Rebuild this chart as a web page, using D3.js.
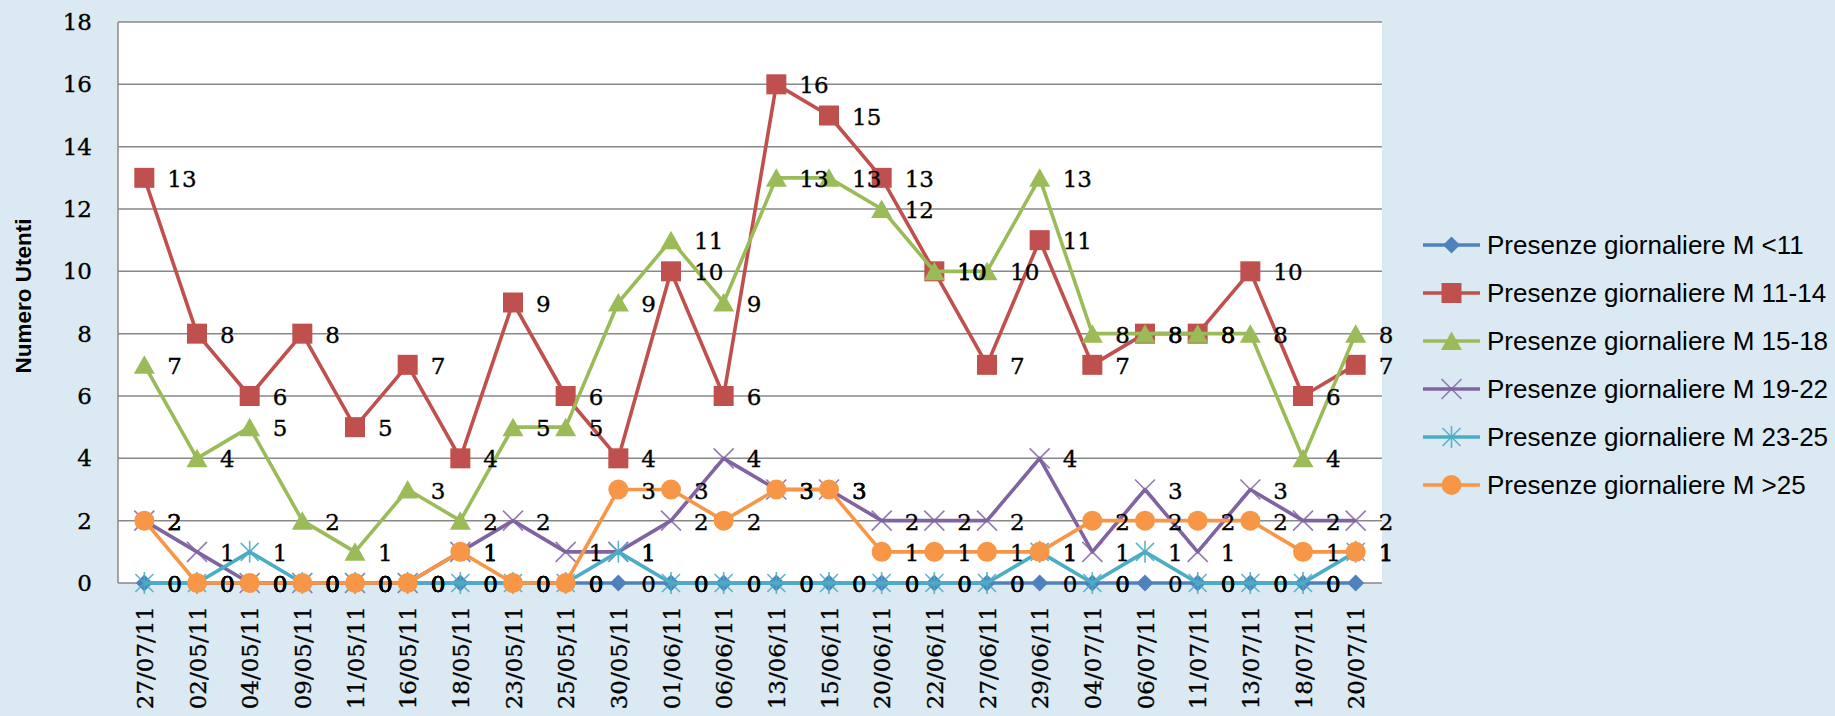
<!DOCTYPE html>
<html><head><meta charset="utf-8">
<script src="https://cdn.jsdelivr.net/npm/d3@7"></script>
<style>html,body{margin:0;padding:0;background:#dbeaf2;} svg{display:block}</style>
</head><body>
<svg id="chart" width="1835" height="716"></svg>
<script>
const categories = ["27/07/11","02/05/11","04/05/11","09/05/11","11/05/11","16/05/11","18/05/11","23/05/11","25/05/11","30/05/11","01/06/11","06/06/11","13/06/11","15/06/11","20/06/11","22/06/11","27/06/11","29/06/11","04/07/11","06/07/11","11/07/11","13/07/11","18/07/11","20/07/11"];
const seriesNames = ["Presenze giornaliere M <11","Presenze giornaliere M 11-14","Presenze giornaliere M 15-18","Presenze giornaliere M 19-22","Presenze giornaliere M 23-25","Presenze giornaliere M >25"];
const valuesLt11  = [0,0,0,0,0,0,0,0,0,0,0,0,0,0,0,0,0,0,0,0,0,0,0,0];
const values11_14 = [13,8,6,8,5,7,4,9,6,4,10,6,16,15,13,10,7,11,7,8,8,10,6,7];
const values15_18 = [7,4,5,2,1,3,2,5,5,9,11,9,13,13,12,10,10,13,8,8,8,8,4,8];
const values19_22 = [2,1,0,0,0,0,1,2,1,1,2,4,3,3,2,2,2,4,1,3,1,3,2,2];
const values23_25 = [0,0,1,0,0,0,0,0,0,1,0,0,0,0,0,0,0,1,0,1,0,0,0,1];
const valuesGt25  = [2,0,0,0,0,0,1,0,0,3,3,2,3,3,1,1,1,1,2,2,2,2,1,1];
const yTicks = [0,2,4,6,8,10,12,14,16,18];
const yTitle = "Numero Utenti";

const seriesValues = [valuesLt11, values11_14, values15_18, values19_22, values23_25, valuesGt25];
const colors = ["#4f81bd","#c0504d","#9bbb59","#8064a2","#4bacc6","#f79646"];
const markers = ["diamond","square","triangle","x","star","circle"];

const svg = d3.select("#chart");
const W = 1835, H = 716;
svg.append("rect").attr("width", W).attr("height", H).attr("fill", "#dbeaf2");

const plot = {left: 118, right: 1382, top: 22, bottom: 583};
const x = d3.scalePoint().domain(categories).range([plot.left, plot.right]).padding(0.5);
const y = d3.scaleLinear().domain([0, 18]).range([plot.bottom, plot.top]);

svg.append("rect").attr("x", plot.left).attr("y", plot.top)
  .attr("width", plot.right - plot.left).attr("height", plot.bottom - plot.top).attr("fill", "#ffffff");

// gridlines
svg.append("g").selectAll("line").data(yTicks).join("line")
  .attr("x1", plot.left).attr("x2", plot.right)
  .attr("y1", d => y(d)).attr("y2", d => y(d))
  .attr("stroke", "#888888").attr("stroke-width", 1.5);
svg.append("line").attr("x1", plot.left).attr("x2", plot.left)
  .attr("y1", plot.top).attr("y2", plot.bottom).attr("stroke", "#888888").attr("stroke-width", 1.5);

const serifText = sel => sel.attr("font-family", "DejaVu Serif").attr("font-size", 23)
  .attr("fill", "#000").attr("stroke", "#000").attr("stroke-width", 0.35);

// y axis
const yAxis = svg.append("g").attr("transform", `translate(${plot.left},0)`)
  .call(d3.axisLeft(y).tickValues(yTicks).tickSize(0).tickPadding(26));
yAxis.select(".domain").remove();
yAxis.selectAll("text").call(serifText);

// x axis
const xAxis = svg.append("g").attr("transform", `translate(0,${plot.bottom})`)
  .call(d3.axisBottom(x).tickSize(0));
xAxis.select(".domain").remove();
xAxis.selectAll("text")
  .attr("transform", "rotate(-90)").attr("x", -23).attr("y", 0).attr("dy", "0.36em")
  .style("text-anchor", "end")
  .call(serifText);

// y title
svg.append("text").attr("transform", "translate(23,296) rotate(-90)")
  .attr("text-anchor", "middle").attr("dominant-baseline", "central")
  .attr("font-family", "Liberation Sans").attr("font-weight", "bold").attr("font-size", 22.5)
  .attr("fill", "#000").text(yTitle);

function drawMarker(g, type, color, cx, cy) {
  if (type === "diamond") {
    g.append("path").attr("d", `M${cx},${cy-8.5}L${cx+8.5},${cy}L${cx},${cy+8.5}L${cx-8.5},${cy}Z`).attr("fill", color);
  } else if (type === "square") {
    g.append("rect").attr("x", cx-10).attr("y", cy-10).attr("width", 20).attr("height", 20).attr("fill", color);
  } else if (type === "triangle") {
    g.append("path").attr("d", `M${cx},${cy-9.5}L${cx+10.5},${cy+9}L${cx-10.5},${cy+9}Z`).attr("fill", color);
  } else if (type === "x") {
    g.append("path").attr("d", `M${cx-10},${cy-10}L${cx+10},${cy+10}M${cx+10},${cy-10}L${cx-10},${cy+10}`)
      .attr("stroke", color).attr("stroke-width", 1.6).attr("fill", "none").attr("opacity", 0.85);
  } else if (type === "star") {
    g.append("path").attr("d", `M${cx-9},${cy-9}L${cx+9},${cy+9}M${cx+9},${cy-9}L${cx-9},${cy+9}M${cx},${cy-11}L${cx},${cy+11}`)
      .attr("stroke", color).attr("stroke-width", 1.6).attr("fill", "none").attr("opacity", 0.9);
  } else if (type === "circle") {
    g.append("circle").attr("cx", cx).attr("cy", cy).attr("r", 10).attr("fill", color);
  }
}

const line = d3.line().x((d, i) => x(categories[i])).y(d => y(d));
seriesValues.forEach((vals, si) => {
  const g = svg.append("g");
  g.append("path").datum(vals).attr("d", line).attr("fill", "none")
    .attr("stroke", colors[si]).attr("stroke-width", 3.6).attr("stroke-linejoin", "round");
  vals.forEach((v, i) => drawMarker(g, markers[si], colors[si], x(categories[i]), y(v)));
});

// data labels (zero labels at the last category are not shown in the original)
const lastIdx = categories.length - 1;
const lbl = svg.append("g");
seriesValues.forEach((vals, si) => {
  const items = vals.map((v, i) => ({v, i})).filter(d => !(d.i === lastIdx && d.v === 0));
  lbl.selectAll(null).data(items).join("text")
    .attr("x", d => x(categories[d.i]) + 23)
    .attr("y", d => y(d.v) + 1)
    .attr("dominant-baseline", "central")
    .call(serifText)
    .text(d => d.v);
});

// legend
const legend = svg.append("g");
seriesNames.forEach((name, i) => {
  const ly = 245 + i * 48;
  const g = legend.append("g");
  g.append("line").attr("x1", 1423).attr("x2", 1480).attr("y1", ly).attr("y2", ly)
    .attr("stroke", colors[i]).attr("stroke-width", 3.6);
  drawMarker(g, markers[i], colors[i], 1451.5, ly);
  g.append("text").attr("x", 1487).attr("y", ly).attr("dominant-baseline", "central")
    .attr("font-family", "Liberation Sans").attr("font-size", 26).attr("fill", "#000").text(name);
});
</script>
</body></html>
